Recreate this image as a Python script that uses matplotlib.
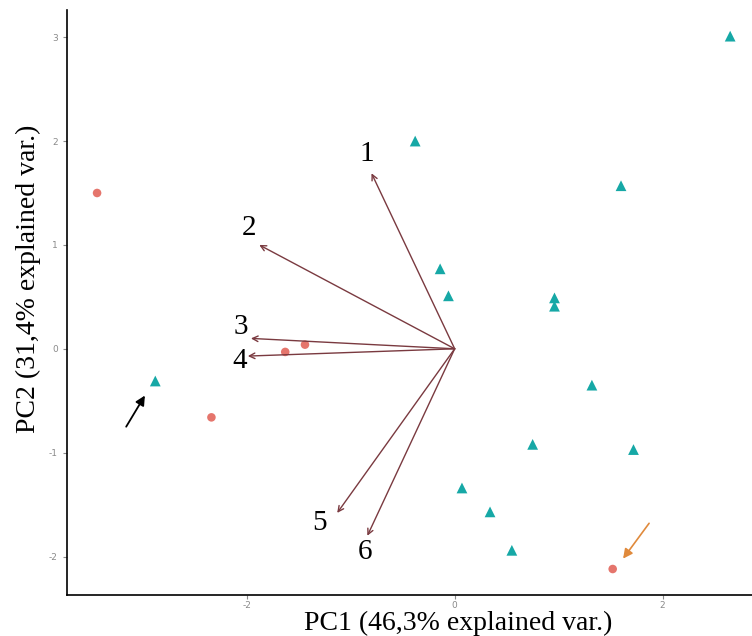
import matplotlib.pyplot as plt

plt.rcParams['axes.unicode_minus'] = False

# group 1 (red circles)
red_x = [-3.44, -1.63, -1.44, -2.34, 1.52]
red_y = [1.50, -0.03, 0.04, -0.66, -2.12]

# group 2 (teal triangles)
teal_x = [-2.88, -0.38, 2.65, 1.60, -0.14, -0.06, 0.96, 0.96, 1.32, 0.75, 1.72, 0.07, 0.34, 0.55]
teal_y = [-0.31, 2.00, 3.01, 1.57, 0.77, 0.51, 0.49, 0.41, -0.35, -0.92, -0.97, -1.34, -1.57, -1.94]

# loadings (arrow tips) and their labels
load_names = ['1', '2', '3', '4', '5', '6']
load_x = [-0.80, -1.88, -1.96, -1.99, -1.13, -0.84]
load_y = [1.69, 1.00, 0.10, -0.07, -1.58, -1.80]
label_x = [-0.85, -1.98, -2.06, -2.07, -1.30, -0.86]
label_y = [1.88, 1.16, 0.21, -0.12, -1.68, -1.96]

fig = plt.figure(figsize=(7.52, 6.36), dpi=100)
ax = fig.add_axes([0.089, 0.0645, 0.911, 0.9195])

ax.scatter(red_x, red_y, marker='o', s=38, color='#E5756C', edgecolors='none', zorder=3)
ax.scatter(teal_x, teal_y, marker='^', s=60, color='#16A8A6', edgecolors='none', zorder=3)

for name, x, y, lx, ly in zip(load_names, load_x, load_y, label_x, label_y):
    ax.annotate('', xy=(x, y), xytext=(0, 0),
                arrowprops=dict(arrowstyle='->', color='#7A3A40', lw=1.0,
                                shrinkA=0, shrinkB=0, mutation_scale=10))
    ax.text(lx, ly, name, fontsize=21, family='Liberation Serif',
            ha='center', va='center', color='black')

# pointer arrows
ax.annotate('', xy=(-2.98, -0.45), xytext=(-3.16, -0.75),
            arrowprops=dict(arrowstyle='-|>', color='black', lw=1.3,
                            shrinkA=0, shrinkB=0, mutation_scale=14))
ax.annotate('', xy=(1.62, -2.02), xytext=(1.87, -1.68),
            arrowprops=dict(arrowstyle='-|>', color='#E08A3C', lw=1.2,
                            shrinkA=0, shrinkB=0, mutation_scale=14))

ax.set_xlim(-3.73, 2.86)
ax.set_ylim(-2.37, 3.26)
ax.set_xticks([-2, 0, 2])
ax.set_yticks([-2, -1, 0, 1, 2, 3])
ax.tick_params(labelsize=6.5, colors='#8a8a8a', length=3, width=0.8)
ax.tick_params(axis='x', pad=1.5)
ax.spines['top'].set_visible(False)
ax.spines['right'].set_visible(False)
ax.spines['left'].set_linewidth(1.2)
ax.spines['bottom'].set_linewidth(1.2)

ax.set_xlabel('PC1 (46,3% explained var.)', fontsize=20, family='Liberation Serif')
ax.set_ylabel('PC2 (31,4% explained var.)', fontsize=20, family='Liberation Serif')
ax.xaxis.set_label_coords(0.571, -0.027)
ax.yaxis.set_label_coords(-0.038, 0.54)

fig.savefig('out.png', dpi=100)
